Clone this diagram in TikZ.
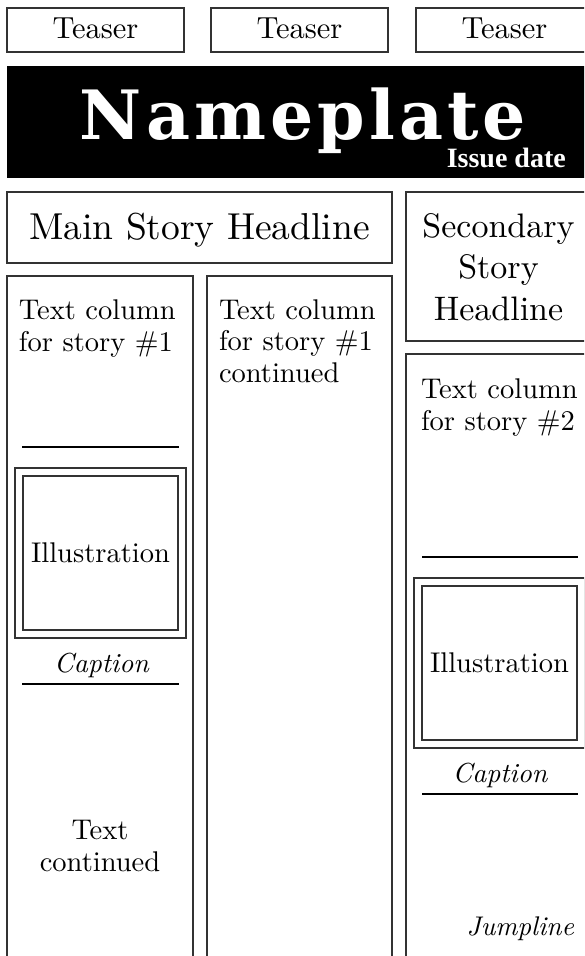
\documentclass[tikz,border=0pt]{standalone}
\usepackage{fontspec}
\usepackage{graphicx}
\setmainfont{lmroman10-regular.otf}[ItalicFont=lmroman10-italic.otf, BoldFont=lmroman10-bold.otf]
\newfontfamily\npfont{DejaVu Serif}[LetterSpace=6]
\newfontfamily\datefont{Liberation Serif}
\tikzset{
  frame/.style={draw=black!80, line width=1.2pt},
  rule/.style={draw=black, line width=1.1pt},
  txt/.style={inner sep=0pt, outer sep=0pt, font=\fontsize{28.5}{32}\selectfont},
  captxt/.style={inner sep=0pt, outer sep=0pt, font=\itshape\fontsize{27.5}{32}\selectfont, anchor=base},
  teaser/.style={txt, anchor=base, font=\fontsize{30.5}{32}\selectfont},
}
\begin{document}
\begin{tikzpicture}[x=1pt, y=-1pt]
\useasboundingbox (0,0) rectangle (584,956);
\clip (0,0) rectangle (584,956);
% teasers
\draw[frame] (7,8) rectangle (184,52);
\draw[frame] (211,8) rectangle (388,52);
\draw[frame] (416,8) rectangle (593,52);
\node[teaser] (t1) at (95.5,38) {Teaser};
\node[teaser] (t2) at (299.5,38) {Teaser};
\node[teaser] (t3) at (504.5,38) {Teaser};
% nameplate
\fill[black] (7,66) rectangle (600,178);
\node[inner sep=0pt, anchor=base, text=white, font=\npfont\bfseries\fontsize{68}{68}\selectfont] (np) at (303,139) {Nameplate};
\node[inner sep=0pt, anchor=base east, text=white, font=\datefont\bfseries\fontsize{28}{30}\selectfont] (date) at (566,167) {Issue date};
% headlines
\draw[frame] (7,192) rectangle (392,263);
\node[txt, anchor=base, font=\fontsize{37.5}{40}\selectfont] (mh) at (199.5,239) {Main Story Headline};
\draw[frame] (406,192) rectangle (592,341);
\node[txt, anchor=base, align=center, font=\fontsize{34}{41.5}\selectfont] (sh) at (498.5,320) {Secondary\\Story\\Headline};
% columns
\draw[frame] (7,276) rectangle (193,975);
\draw[frame] (207,276) rectangle (392,975);
\draw[frame] (406,354) rectangle (592,975);
\node[txt, anchor=base west, align=left] (c1) at (19,351) {Text column\\for story \#1};
\node[txt, anchor=base west, align=left, font=\fontsize{28.5}{31.5}\selectfont] (c2) at (219,382) {Text column\\for story \#1\\continued};
\node[txt, anchor=base west, align=left] (c3) at (421,430) {Text column\\for story \#2};
% column 1 illustration
\draw[rule] (22,447) -- (179,447);
\draw[frame] (15,468) rectangle (186,638);
\draw[frame] (23,476) rectangle (178,630);
\node[txt, anchor=base] (il1) at (100.5,562) {Illustration};
\node[captxt] (cp1) at (101.5,672) {Caption};
\draw[rule] (22,684) -- (179,684);
\node[txt, anchor=base, align=center] (tc) at (100,871) {Text\\continued};
% column 3 illustration
\draw[rule] (422,557) -- (578,557);
\draw[frame] (414,578) rectangle (585,748);
\draw[frame] (422,586) rectangle (577,740);
\node[txt, anchor=base] (il2) at (499.5,672) {Illustration};
\node[captxt] (cp2) at (500,782) {Caption};
\draw[rule] (422,794) -- (578,794);
\node[captxt, anchor=base east, font=\itshape\fontsize{27}{30}\selectfont] (jl) at (574,935) {Jumpline};
\end{tikzpicture}
\end{document}
